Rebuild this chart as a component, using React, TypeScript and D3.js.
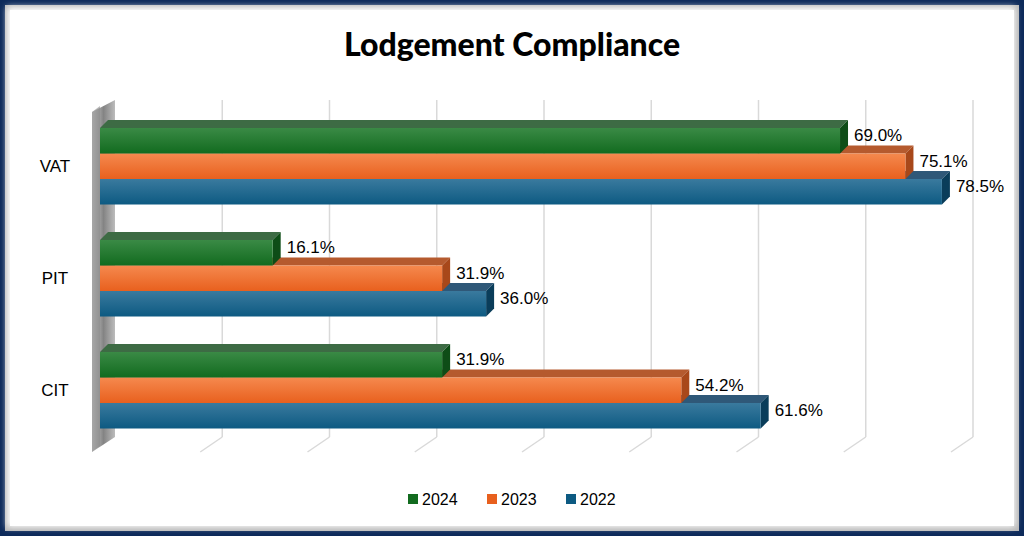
import React from "react";
import * as d3 from "d3";

const categories = ["VAT", "PIT", "CIT"];
const seriesNames = ["2024", "2023", "2022"];
const values2024 = [69.0, 16.1, 31.9];
const values2023 = [75.1, 31.9, 54.2];
const values2022 = [78.5, 36.0, 61.6];
const ticks = [0, 10, 20, 30, 40, 50, 60, 70, 80];

const colors = [
  { top: "#3d6b44", front: ["#3a8a45", "#126b1f"], side: "#0e4d17" },
  { top: "#b55a2e", front: ["#f5894e", "#e8601e"], side: "#a8481a" },
  { top: "#2f5878", front: ["#3a7a9e", "#0d5a82"], side: "#0a3d5a" },
];

export default function App() {
  const W = 1024, H = 536;
  const x = d3.scaleLinear().domain([0, 80]).range([100, 958]);
  const depthX = 15;
  const bd = 8;
  const groupY = d3.scaleBand().domain(categories).range([128, 464]);
  const barH = 25.5;
  const all = [values2024, values2023, values2022];
  return (
    <svg width={W} height={H} style={{ position: "absolute", left: 0, top: 0 }} fontFamily="Liberation Sans, Arial, sans-serif">
      <defs>
        {colors.map((c, i) => (
          <linearGradient key={i} id={"g" + i} x1="0" y1="0" x2="0" y2="1">
            <stop offset="0" stopColor={c.front[0]} />
            <stop offset="1" stopColor={c.front[1]} />
          </linearGradient>
        ))}
        <linearGradient id="wall" x1="0" y1="0" x2="1" y2="0">
          <stop offset="0" stopColor="#c8c8c8" />
          <stop offset="0.5" stopColor="#6e6e6e" />
          <stop offset="1" stopColor="#b0b0b0" />
        </linearGradient>
        <filter id="inner">
          <feGaussianBlur stdDeviation="3" />
        </filter>
      </defs>
      <rect x={0} y={0} width={W} height={H} fill="#0d2a5a" />
      <rect x={5} y={5} width={W - 10} height={H - 10} fill="#b8b8b8" />
      <rect x={7} y={7} width={W - 16} height={H - 16} fill="#fff" filter="url(#inner)" />
      <rect x={10} y={10} width={W - 20} height={H - 20} fill="#fff" />
      <text x={512} y={56} textAnchor="middle" fontSize={32} fontWeight="900" fontFamily="Lato, sans-serif" fill="#000">
        Lodgement Compliance
      </text>
      {ticks.map((t) => {
        const bx = x(t) + depthX;
        return (
          <g key={t} stroke="#d9d9d9" strokeWidth={1.5} fill="none">
            {t > 0 && <line x1={bx} y1={100} x2={bx} y2={437} />}
            {t > 0 && <line x1={bx} y1={437} x2={bx - 22} y2={452} />}
          </g>
        );
      })}
      <path d={`M92,112 L115,100 L115,437 L92,452 Z`} fill="url(#wall)" opacity={0.85} />
      <path d={`M92,112 L100,106 L100,446 L92,452 Z`} fill="#8a8a8a" opacity={0.6} />
      {categories.map((cat, ci) => {
        const gy = groupY(cat)!;
        const order = [2, 1, 0];
        return (
          <g key={cat}>
            <text x={55} y={gy + barH * 1.5 + 6} textAnchor="middle" fontSize={17} fill="#000">{cat}</text>
            {order.map((si) => {
              const vals = all[si];
              const y0 = gy + si * barH;
              const x0 = x(0), x1 = x(vals[ci]);
              const c = colors[si];
              return (
                <g key={si}>
                  <path d={`M${x0},${y0} L${x0 + bd},${y0 - bd} L${x1 + bd},${y0 - bd} L${x1},${y0} Z`} fill={c.top} />
                  <path d={`M${x1},${y0} L${x1 + bd},${y0 - bd} L${x1 + bd},${y0 + barH - bd} L${x1},${y0 + barH} Z`} fill={c.side} />
                  <rect x={x0} y={y0} width={x1 - x0} height={barH} fill={`url(#g${si})`} />
                </g>
              );
            })}
            {order.map((si) => {
              const vals = all[si];
              const y0 = gy + si * barH;
              return (
                <text key={"t" + si} x={x(vals[ci]) + bd + 6} y={y0 + 13} fontSize={17} fill="#000">{vals[ci].toFixed(1)}%</text>
              );
            })}
          </g>
        );
      })}
      {seriesNames.map((s, i) => {
        const lx = 408 + i * 79;
        return (
          <g key={s}>
            <rect x={lx} y={494} width={10} height={10} fill={colors[i].front[1]} />
            <text x={lx + 14} y={505} fontSize={16} fill="#000">{s}</text>
          </g>
        );
      })}
    </svg>
  );
}
